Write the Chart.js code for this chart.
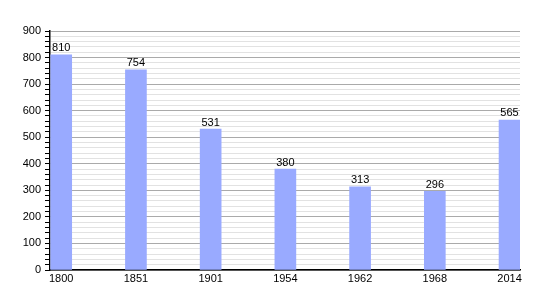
<!DOCTYPE html>
<html>
<head>
<meta charset="utf-8">
<script src="https://cdn.jsdelivr.net/npm/chart.js@4"></script>
<style>
  html, body { margin: 0; padding: 0; background: #fff; }
  #wrap { width: 550px; height: 300px; }
</style>
</head>
<body>
<div id="wrap"><canvas id="popChart" width="550" height="300"></canvas></div>
<script>
var years = ["1800", "1851", "1901", "1954", "1962", "1968", "2014"];
var population = [810, 754, 531, 380, 313, 296, 565];
var yMax = 900;
var yMajorStep = 100;
var yMinorStep = 20;

Chart.defaults.font.family = "'Liberation Sans', Arial, sans-serif";
Chart.defaults.font.size = 11;
Chart.defaults.color = "#000";

// values printed above each bar
var valueLabels = {
  id: "valueLabels",
  afterDatasetsDraw: function (chart) {
    var ctx = chart.ctx;
    var meta = chart.getDatasetMeta(0);
    ctx.save();
    ctx.font = "11px 'Liberation Sans', Arial, sans-serif";
    ctx.fillStyle = "#000";
    ctx.textAlign = "center";
    ctx.textBaseline = "bottom";
    meta.data.forEach(function (bar, i) {
      ctx.fillText(String(population[i]), bar.x, bar.y - 1);
    });
    ctx.restore();
  },
};

var ctx = document.getElementById("popChart").getContext("2d");
var chart = new Chart(ctx, {
  type: "bar",
  data: {
    datasets: [
      {
        data: population.map(function (v, i) { return { x: i, y: v }; }),
        backgroundColor: "#99aaff",
        borderWidth: 0,
        barThickness: 21,
      },
    ],
  },
  options: {
    responsive: false,
    animation: false,
    layout: { padding: { top: 31, right: 30, left: 0, bottom: 0 } },
    plugins: {
      legend: { display: false },
      tooltip: { enabled: false },
    },
    scales: {
      x: {
        type: "linear",
        offset: false,
        min: -0.15,
        max: 6.14,
        afterBuildTicks: function (scale) {
          scale.ticks = years.map(function (_, i) { return { value: i }; });
        },
        afterFit: function (scale) { scale.height = 30; },
        ticks: {
          padding: 2,
          autoSkip: false,
          maxRotation: 0,
          callback: function (v) { return years[v]; },
        },
        grid: { display: false, drawTicks: false, offset: false },
        border: { color: "#000", width: 1.5 },
      },
      y: {
        min: 0,
        max: yMax,
        afterFit: function (scale) { scale.width = 50; },
        ticks: {
          stepSize: yMinorStep,
          autoSkip: false,
          padding: 4,
          callback: function (v) { return v % yMajorStep === 0 ? v : ""; },
        },
        grid: {
          tickLength: 5,
          color: function (c) {
            return c.tick && c.tick.value % yMajorStep === 0 ? "#aaaaaa" : "#e2e2e2";
          },
          tickColor: "#000",
        },
        border: { color: "#000", width: 1.5 },
      },
    },
  },
  plugins: [valueLabels],
});
</script>
</body>
</html>
